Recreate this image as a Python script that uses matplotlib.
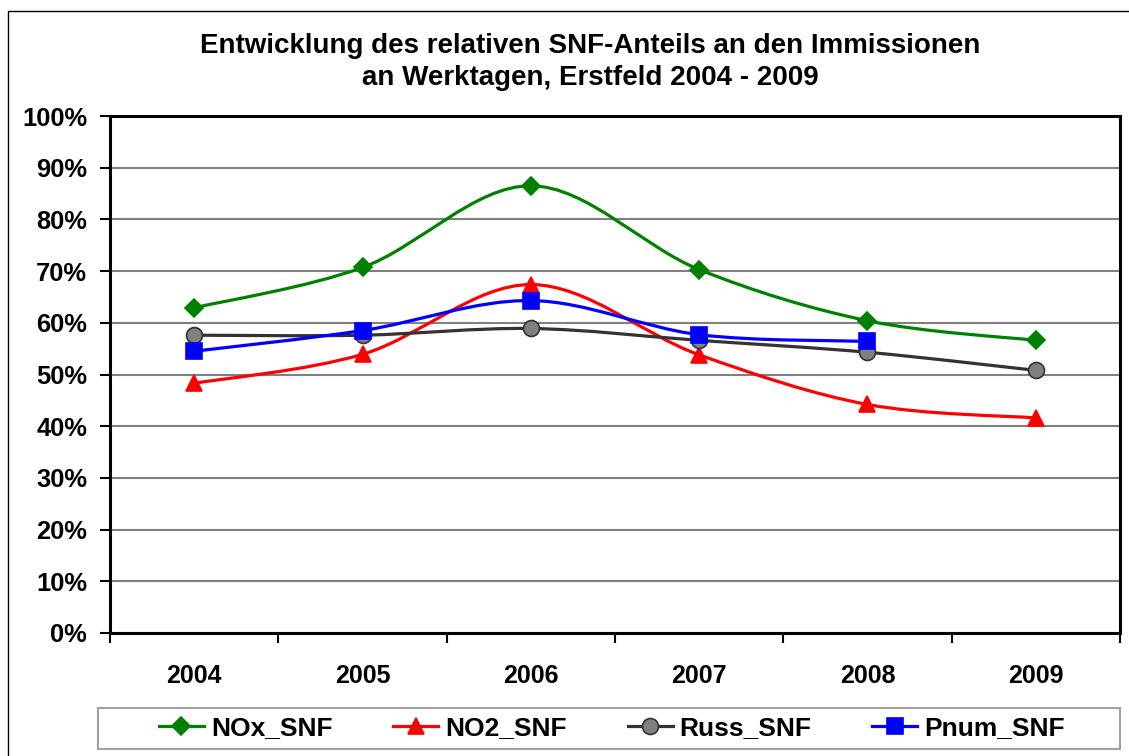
import numpy as np
import matplotlib.pyplot as plt
from matplotlib.path import Path
from matplotlib.patches import PathPatch, Rectangle

plt.rcParams['font.family'] = ['Liberation Sans', 'DejaVu Sans']
plt.rcParams['font.weight'] = 'bold'

# data
years = ["2004", "2005", "2006", "2007", "2008", "2009"]
nox_snf = [62.9, 70.7, 86.5, 70.3, 60.4, 56.6]
no2_snf = [48.3, 53.9, 67.4, 53.8, 44.2, 41.6]
russ_snf = [57.6, 57.6, 58.9, 56.6, 54.3, 50.8]
pnum_snf = [54.5, 58.5, 64.3, 57.7, 56.4, np.nan]

TITLE = "Entwicklung des relativen SNF-Anteils an den Immissionen\nan Werktagen, Erstfeld 2004 - 2009"


def smooth_path(x, y):
    """Excel-like smoothed line as cubic Bezier path"""
    pts = [(xi, yi) for xi, yi in zip(x, y) if not np.isnan(yi)]
    verts = [pts[0]]
    codes = [Path.MOVETO]
    n = len(pts)
    for i in range(n - 1):
        p0 = np.array(pts[max(i - 1, 0)])
        p1 = np.array(pts[i])
        p2 = np.array(pts[i + 1])
        p3 = np.array(pts[min(i + 2, n - 1)])
        c1 = p1 + (p2 - p0) / 6.0
        c2 = p2 - (p3 - p1) / 6.0
        verts += [tuple(c1), tuple(c2), tuple(p2)]
        codes += [Path.CURVE4] * 3
    return Path(verts, codes)


W, H = 1129, 756
fig = plt.figure(figsize=(W / 100, H / 100), dpi=100)

# outer chart border
fig.patches.append(Rectangle((8 / W, -0.05), 1.2, 1 - 11 / H + 0.05, transform=fig.transFigure,
                             fill=False, edgecolor='black', linewidth=1.0))
# legend box
fig.patches.append(Rectangle((98 / W, 1 - 749 / H), (1120 - 98) / W, 41 / H, transform=fig.transFigure,
                             fill=False, edgecolor='#A0A0A0', linewidth=1.5))

ax = fig.add_axes([110 / W, (H - 633) / H, (1120 - 110) / W, (633 - 116) / H])

x = np.arange(len(years))
series = [
    ("NOx_SNF", nox_snf, "#008000", "D", 9, "#008000", "#008000"),
    ("NO2_SNF", no2_snf, "#FF0000", "^", 12, "#FF0000", "#FF0000"),
    ("Russ_SNF", russ_snf, "#333333", "o", 11.5, "#808080", "#333333"),
    ("Pnum_SNF", pnum_snf, "#0000FF", "s", 12, "#0000FF", "#0000FF"),
]

for name, vals, col, mk, ms, fc, ec in series:
    vals = np.array(vals, dtype=float)
    ax.add_patch(PathPatch(smooth_path(x, vals), fill=False, edgecolor=col, linewidth=2.3, zorder=3))
    ax.plot(x, vals, linestyle='none', marker=mk, markersize=ms, markerfacecolor=fc,
            markeredgecolor=ec, markeredgewidth=1.2, zorder=4)
    # legend proxy
    ax.plot([], [], color=col, linewidth=2.3, marker=mk, markersize=ms, markerfacecolor=fc,
            markeredgecolor=ec, markeredgewidth=1.2, label=name)

ax.set_xlim(-0.5, len(years) - 0.5)
ax.set_ylim(0, 100)
ax.set_yticks(np.arange(0, 101, 10))
ax.set_yticklabels([f"{v}%" for v in range(0, 101, 10)])
ax.set_xticks(x)
ax.set_xticklabels(years)
ax.set_xticks(np.arange(-0.5, len(years), 1), minor=True)
ax.tick_params(axis='x', which='major', length=0, pad=22, labelsize=18)
ax.tick_params(axis='x', which='minor', length=7, width=1.5, direction='out')
ax.tick_params(axis='y', length=7, width=1.5, direction='out', labelsize=18.4, pad=9.5)
ax.grid(axis='y', color='#808080', linewidth=1.5)
ax.set_axisbelow(True)
for sp in ax.spines.values():
    sp.set_linewidth(2.2)
    sp.set_color('black')

fig.text(590 / W, 1 - 62 / H, TITLE, ha='center', va='center', fontsize=20, fontweight='bold',
         linespacing=1.3)

leg = fig.legend(loc='center', bbox_to_anchor=(612 / W, 1 - 728 / H), ncol=4, fontsize=19,
                 frameon=False, handlelength=1.7, handletextpad=0.27, borderaxespad=0,
                 columnspacing=2.3)

fig.savefig("out.png", dpi=100)
